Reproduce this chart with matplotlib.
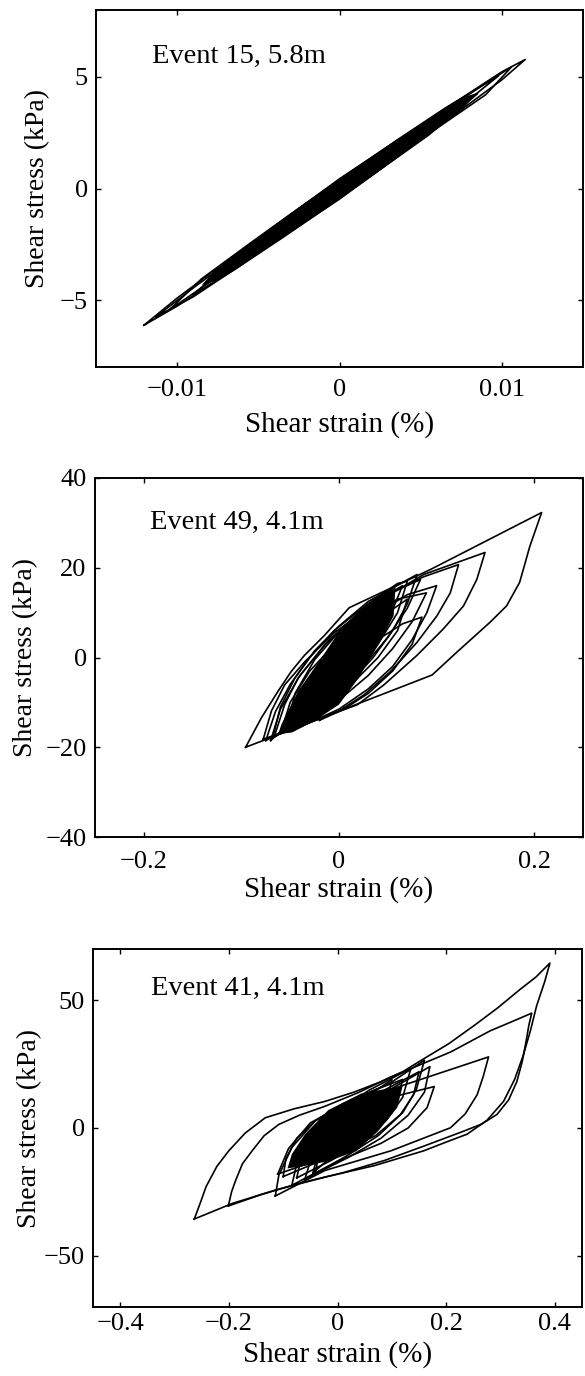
import matplotlib
matplotlib.use("Agg")
import matplotlib.pyplot as plt

plt.rcParams['font.family'] = ['Liberation Serif', 'DejaVu Serif']

# ---------------- data ----------------
x_label = "Shear strain (%)"
y_label = "Shear stress (kPa)"

# Panel 1 : Event 15, 5.8m
p1_title = "Event 15, 5.8m"
p1_xlim = [-0.015, 0.015]
p1_ylim = [-8, 8]
p1_xticks = [-0.01, 0, 0.01]
p1_xticklabels = ["\u22120.01", "0", "0.01"]
p1_yticks = [-5, 0, 5]
p1_yticklabels = ["\u22125", "0", "5"]

p1_a_strain = [-0.01205, -0.0100, -0.0070, -0.0040, -0.0010, 0.0020, 0.0050, 0.0080, 0.0100, 0.01144,
               0.0100, 0.0080, 0.0050, 0.0020, -0.0010, -0.0040, -0.0070, -0.0100, -0.01205]
p1_a_stress = [-6.13, -4.91, -3.29, -1.70, -0.13, 1.39, 2.85, 4.28, 5.23, 5.78,
               4.87, 3.80, 2.18, 0.59, -0.93, -2.40, -3.85, -5.27, -6.13]
p1_b_strain = [-0.0105, -0.0085, -0.0055, -0.0025, 0.0005, 0.0035, 0.0065, 0.0098,
               0.0065, 0.0035, 0.0005, -0.0025, -0.0055, -0.0085, -0.0105]
p1_b_stress = [-5.45, -4.05, -2.45, -0.88, 0.65, 2.15, 3.6, 5.05,
               3.12, 1.55, 0.02, -1.5, -3.0, -4.45, -5.45]
p1_c_strain = [-0.0090, -0.0065, -0.0035, -0.0005, 0.0025, 0.0055, 0.0085,
               0.0055, 0.0025, -0.0005, -0.0035, -0.0065, -0.0090]
p1_c_stress = [-4.75, -3.15, -1.6, -0.05, 1.45, 2.9, 4.25,
               2.4, 0.85, -0.7, -2.2, -3.65, -4.75]
p1_d_strain = [-0.0070, -0.0045, -0.0015, 0.0015, 0.0045, 0.0072,
               0.0045, 0.0015, -0.0015, -0.0045, -0.0070]
p1_d_stress = [-3.65, -1.95, -0.4, 1.1, 2.6, 3.7,
               2.0, 0.47, -1.05, -2.55, -3.65]
p1_e_strain = [-0.0113, -0.0090, -0.0060, -0.0030, 0.0, 0.0030, 0.0060, 0.0090, 0.0106,
               0.0090, 0.0060, 0.0030, 0.0, -0.0030, -0.0060, -0.0090, -0.0113]
p1_e_stress = [-5.75, -4.45, -2.85, -1.3, 0.25, 1.75, 3.25, 4.72, 5.45,
               4.2, 2.7, 1.15, -0.4, -1.9, -3.4, -4.85, -5.75]
p1_core_strain = [-0.0085, -0.0075, -0.004, 0.0, 0.004, 0.0075, 0.0085,
                  0.0075, 0.004, 0.0, -0.004, -0.0075, -0.0085]
p1_core_stress = [-4.33, -3.54, -1.65, 0.48, 2.41, 4.06, 4.29,
                  3.50, 1.61, -0.52, -2.45, -4.10, -4.33]

# Panel 2 : Event 49, 4.1m
p2_title = "Event 49, 4.1m"
p2_xlim = [-0.25, 0.25]
p2_ylim = [-40, 40]
p2_xticks = [-0.2, 0, 0.2]
p2_xticklabels = ["\u22120.2", "0", "0.2"]
p2_yticks = [-40, -20, 0, 20, 40]
p2_yticklabels = ["\u221240", "\u221220", "0", "20", "40"]

p2_a_strain = [-0.0957, -0.0794, -0.0624, -0.0489, -0.0353, -0.015, 0.0105, 0.0936, 0.2076,
               0.2015, 0.1954, 0.190, 0.185, 0.1717, 0.155, 0.1208, 0.0954, 0.029, -0.042, -0.0957]
p2_a_stress = [-20.0, -13.4, -7.5, -3.1, 0.5, 4.9, 11.1, 19.6, 32.3,
               28.5, 24.7, 20.5, 16.7, 11.5, 7.9, 1.2, -3.9, -9.5, -15.5, -20.0]
p2_b_strain = [-0.0776, -0.0692, -0.0557, -0.0353, -0.005, 0.040, 0.0868, 0.1496,
               0.1412, 0.1276, 0.107, 0.080, 0.046, 0.019, -0.030, -0.0776]
p2_b_stress = [-18.2, -11.9, -6.1, -1.0, 5.5, 12.5, 18.5, 23.4,
               17.4, 11.5, 6.4, 0.5, -6.1, -10.5, -14.5, -18.2]
p2_c_strain = [-0.066, -0.0557, -0.042, -0.015, 0.019, 0.0529, 0.0868, 0.1225,
               0.114, 0.1004, 0.080, 0.0529, 0.0258, 0.0, -0.066]
p2_c_stress = [-17.4, -10.5, -4.6, 2.7, 9.3, 14.4, 18.0, 20.7,
               14.4, 9.3, 3.4, -3.1, -8.3, -11.9, -17.4]
p2_d_strain = [-0.060, -0.050, -0.030, 0.0, 0.030, 0.060, 0.0896,
               0.075, 0.055, 0.030, 0.0, -0.030, -0.060]
p2_d_stress = [-17.0, -10.0, -3.0, 4.0, 9.5, 13.0, 14.4,
               8.0, 2.0, -4.0, -9.5, -14.0, -17.0]
p2_e_strain = [-0.055, -0.045, -0.025, 0.005, 0.035, 0.0835,
               0.070, 0.050, 0.025, -0.005, -0.055]
p2_e_stress = [-16.5, -8.0, -0.5, 7.0, 12.5, 17.4,
               11.0, 4.5, -2.0, -8.5, -16.5]
p2_f_strain = [-0.070, -0.060, -0.040, -0.010, 0.030, 0.065,
               0.050, 0.020, -0.010, -0.040, -0.070]
p2_f_stress = [-18.5, -11.5, -4.0, 4.0, 11.5, 16.0,
               8.0, 0.0, -7.0, -12.5, -18.5]
p2_g_strain = [-0.040, -0.030, -0.010, 0.020, 0.050, 0.070,
               0.060, 0.040, 0.015, -0.010, -0.040]
p2_g_stress = [-15.5, -9.0, -2.0, 5.0, 10.0, 13.0,
               6.0, 0.0, -5.5, -10.5, -15.5]
p2_h_strain = [-0.075, -0.065, -0.050, -0.030, -0.005, 0.030, 0.060, 0.070,
               0.060, 0.040, 0.015, -0.015, -0.045, -0.075]
p2_h_stress = [-18.5, -12.0, -6.0, 0.0, 6.0, 12.0, 16.5, 17.0,
               10.0, 3.0, -4.0, -10.0, -15.0, -18.5]
p2_i_strain = [-0.068, -0.060, -0.045, -0.025, 0.0, 0.030, 0.080,
               0.070, 0.055, 0.035, 0.010, -0.020, -0.068]
p2_i_stress = [-18.0, -11.0, -4.5, 1.5, 7.0, 12.5, 18.5,
               12.0, 6.0, 0.0, -6.0, -11.5, -18.0]
p2_j_strain = [-0.045, -0.035, -0.020, 0.010, 0.040, 0.070, 0.100,
               0.090, 0.075, 0.055, 0.030, 0.0, -0.045]
p2_j_stress = [-16.0, -10.0, -3.5, 4.0, 10.0, 14.0, 16.0,
               10.0, 4.0, -2.0, -7.0, -11.5, -16.0]
p2_k_strain = [-0.020, -0.010, 0.010, 0.040, 0.065, 0.085,
               0.075, 0.055, 0.030, 0.005, -0.020]
p2_k_stress = [-14.0, -8.0, -2.0, 4.0, 7.5, 9.0,
               3.0, -3.0, -8.0, -11.5, -14.0]
p2_core_strain = [0.058, 0.0258, 0.002, -0.0183, -0.042, -0.059, -0.0624,
                  -0.048, -0.025, 0.000, 0.020, 0.040, 0.056, 0.058]
p2_core_stress = [16.0, 11.5, 6.4, -0.2, -7.5, -14.9, -17.1,
                  -16.7, -14.1, -10.5, -4.6, 2.7, 9.3, 16.0]

# Panel 3 : Event 41, 4.1m
p3_title = "Event 41, 4.1m"
p3_xlim = [-0.45, 0.45]
p3_ylim = [-70, 70]
p3_xticks = [-0.4, -0.2, 0, 0.2, 0.4]
p3_xticklabels = ["\u22120.4", "\u22120.2", "0", "0.2", "0.4"]
p3_yticks = [-50, 0, 50]
p3_yticklabels = ["\u221250", "0", "50"]

p3_a_strain = [-0.2636, -0.252, -0.242, -0.222, -0.200, -0.170, -0.133, -0.080, -0.023, 0.030,
               0.080, 0.120, 0.159, 0.205, 0.251, 0.295, 0.336, 0.365, 0.391,
               0.381, 0.3665, 0.355, 0.342, 0.326, 0.3056, 0.275, 0.2387, 0.200, 0.159,
               0.068, -0.023, -0.1145, -0.1936, -0.2636]
p3_a_stress = [-35.6, -29.0, -23.0, -15.0, -8.9, -2.0, 4.0, 7.5, 10.4, 14.0,
               18.1, 22.0, 27.1, 33.0, 40.0, 47.0, 54.2, 59.0, 64.5,
               57.0, 47.8, 38.0, 28.5, 19.0, 10.4, 3.0, -2.4, -5.5, -8.9,
               -14.7, -19.2, -24.3, -29.5, -35.6]
p3_b_strain = [-0.2009, -0.195, -0.1875, -0.175, -0.157, -0.135, -0.108, -0.070, -0.023, 0.040,
               0.0986, 0.155, 0.208, 0.281, 0.320, 0.3574,
               0.352, 0.348, 0.340, 0.330, 0.315, 0.2935, 0.265, 0.2326, 0.160, 0.0864,
               0.010, -0.0718, -0.140, -0.2009]
p3_b_stress = [-30.5, -25.0, -20.5, -14.0, -8.9, -3.0, 1.4, 5.0, 8.5, 14.0,
               20.0, 25.0, 29.7, 38.0, 41.5, 44.9,
               40.0, 34.9, 26.0, 18.1, 11.0, 5.3, 1.5, -1.2, -7.0, -12.7,
               -17.5, -21.7, -26.0, -30.5]
p3_c_strain = [-0.1145, -0.108, -0.084, -0.040, 0.068, 0.159, 0.278,
               0.268, 0.257, 0.235, 0.208, 0.0986, -0.023, -0.1145]
p3_c_stress = [-26.6, -18.5, -7.6, 3.0, 13.0, 19.4, 27.8,
               20.0, 13.0, 5.5, 0.1, -8.9, -16.6, -26.6]
p3_d_strain = [-0.084, -0.075, -0.050, 0.0, 0.080, 0.178,
               0.165, 0.130, 0.080, 0.0, -0.084]
p3_d_stress = [-22.4, -14.0, -5.0, 4.0, 11.0, 16.2,
               8.0, 0.0, -6.0, -13.0, -22.4]
p3_e_strain = [-0.110, -0.090, -0.050, 0.020, 0.100, 0.160,
               0.145, 0.120, 0.070, 0.0, -0.110]
p3_e_stress = [-18.0, -8.0, 2.0, 10.0, 18.0, 26.5,
               15.0, 6.0, -3.0, -10.0, -18.0]
p3_f_strain = [-0.075, -0.065, -0.040, 0.000, 0.060, 0.135,
               0.120, 0.090, 0.040, -0.010, -0.075]
p3_f_stress = [-19.5, -10.0, -1.5, 7.0, 15.0, 23.3,
               12.0, 3.0, -6.0, -12.5, -19.5]
p3_g_strain = [-0.045, -0.035, -0.010, 0.030, 0.070, 0.100,
               0.090, 0.060, 0.020, -0.010, -0.045]
p3_g_stress = [-17.5, -9.0, -1.0, 8.0, 14.5, 19.0,
               9.0, 0.5, -6.5, -11.0, -17.5]
p3_h_strain = [-0.041, -0.035, -0.015, 0.020, 0.070, 0.150,
               0.140, 0.115, 0.075, 0.020, -0.041]
p3_h_stress = [-17.9, -11.0, -3.0, 5.0, 13.0, 22.0,
               13.0, 5.0, -3.0, -10.5, -17.9]
p3_i_strain = [-0.100, -0.095, -0.075, -0.040, 0.010, 0.070, 0.120,
               0.110, 0.085, 0.045, -0.010, -0.100]
p3_i_stress = [-19.0, -12.0, -4.0, 3.0, 9.5, 15.0, 19.0,
               11.0, 3.0, -4.5, -11.0, -19.0]
p3_j_strain = [-0.060, -0.050, -0.025, 0.020, 0.080, 0.170,
               0.160, 0.130, 0.080, 0.020, -0.060]
p3_j_stress = [-20.0, -13.0, -5.0, 4.0, 13.0, 24.0,
               14.0, 5.0, -4.0, -11.5, -20.0]
p3_core_strain = [0.120, 0.0438, -0.017, -0.0597, -0.084, -0.092,
                  -0.0658, -0.017, 0.035, 0.075, 0.110, 0.120]
p3_core_stress = [16.5, 13.5, 7.0, -2.4, -10.2, -15.8,
                  -15.0, -13.0, -9.0, -1.2, 8.0, 16.5]

# ---------------- figure ----------------
W, H = 585, 1376
fig = plt.figure(figsize=(W / 100, H / 100), dpi=100)


def box(left, right, top, bottom):
    return [left / W, 1 - bottom / H, (right - left) / W, (bottom - top) / H]


panels = [
    dict(rect=box(96, 583, 10, 367), title=p1_title, tpos=(0.115, 0.87),
         xlim=p1_xlim, ylim=p1_ylim, xt=p1_xticks, xtl=p1_xticklabels,
         yt=p1_yticks, ytl=p1_yticklabels, xpad=8.6, xlpad=7.0, ylpad=7.0,
         loops=[(p1_a_strain, p1_a_stress), (p1_b_strain, p1_b_stress),
                (p1_c_strain, p1_c_stress), (p1_d_strain, p1_d_stress),
                (p1_e_strain, p1_e_stress)],
         core=(p1_core_strain, p1_core_stress)),
    dict(rect=box(95, 583, 478, 837), title=p2_title, tpos=(0.113, 0.875),
         xlim=p2_xlim, ylim=p2_ylim, xt=p2_xticks, xtl=p2_xticklabels,
         yt=p2_yticks, ytl=p2_yticklabels, xpad=10.0, xlpad=2.0, ylpad=5.5,
         loops=[(p2_a_strain, p2_a_stress), (p2_b_strain, p2_b_stress),
                (p2_c_strain, p2_c_stress), (p2_d_strain, p2_d_stress),
                (p2_e_strain, p2_e_stress), (p2_f_strain, p2_f_stress),
                (p2_g_strain, p2_g_stress), (p2_h_strain, p2_h_stress),
                (p2_i_strain, p2_i_stress), (p2_j_strain, p2_j_stress),
                (p2_k_strain, p2_k_stress)],
         core=(p2_core_strain, p2_core_stress)),
    dict(rect=box(93, 582, 949, 1307), title=p3_title, tpos=(0.119, 0.89),
         xlim=p3_xlim, ylim=p3_ylim, xt=p3_xticks, xtl=p3_xticklabels,
         yt=p3_yticks, ytl=p3_yticklabels, xpad=4.3, xlpad=4.3, ylpad=1.0,
         loops=[(p3_a_strain, p3_a_stress), (p3_b_strain, p3_b_stress),
                (p3_c_strain, p3_c_stress), (p3_d_strain, p3_d_stress),
                (p3_e_strain, p3_e_stress), (p3_f_strain, p3_f_stress),
                (p3_g_strain, p3_g_stress), (p3_h_strain, p3_h_stress),
                (p3_i_strain, p3_i_stress), (p3_j_strain, p3_j_stress)],
         core=(p3_core_strain, p3_core_stress)),
]

for p in panels:
    ax = fig.add_axes(p["rect"])
    ax.fill(p["core"][0], p["core"][1], color="black", lw=0)
    for sx, sy in p["loops"]:
        ax.plot(sx, sy, color="black", lw=1.2, solid_joinstyle="round")
    ax.set_xlim(p["xlim"])
    ax.set_ylim(p["ylim"])
    ax.set_xticks(p["xt"])
    ax.set_xticklabels(p["xtl"])
    ax.set_yticks(p["yt"])
    ax.set_yticklabels(p["ytl"])
    ax.tick_params(direction="in", top=True, right=True, length=3.5, width=1.0,
                   labelsize=19)
    ax.tick_params(axis="x", pad=p["xpad"])
    ax.tick_params(axis="y", pad=6)
    for s in ax.spines.values():
        s.set_linewidth(1.4)
    ax.set_xlabel(x_label, fontsize=21, labelpad=p["xlpad"])
    ax.set_ylabel(y_label, fontsize=20, labelpad=p["ylpad"])
    ax.text(p["tpos"][0], p["tpos"][1], p["title"], transform=ax.transAxes,
            fontsize=20.5, ha="left", va="center")

fig.savefig("out.png", dpi=100)
